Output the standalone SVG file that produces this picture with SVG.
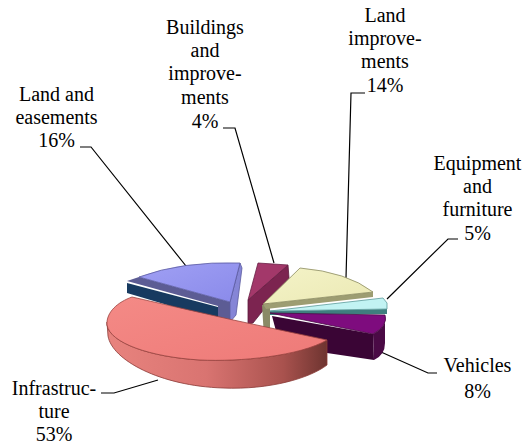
<svg xmlns="http://www.w3.org/2000/svg" width="529" height="445" viewBox="0 0 529 445">
<defs>
<style>
.lbl{font-family:'Liberation Serif','DejaVu Serif',serif;font-size:20px;fill:#000;text-anchor:middle}
.lead{fill:none;stroke:#000;stroke-width:1.2}
.edge{stroke-width:0.8;stroke-linejoin:round}
</style>
<linearGradient id="redWall" gradientUnits="userSpaceOnUse" x1="107" y1="0" x2="327" y2="0">
<stop offset="0" stop-color="#e8837e"/>
<stop offset="0.45" stop-color="#d97471"/>
<stop offset="0.8" stop-color="#a9524e"/>
<stop offset="1" stop-color="#6e3430"/>
</linearGradient>
<linearGradient id="redTop" x1="0" y1="0" x2="1" y2="1">
<stop offset="0" stop-color="#f48a86"/>
<stop offset="1" stop-color="#ee7a78"/>
</linearGradient>
<linearGradient id="blueTop" x1="0" y1="0" x2="1" y2="1">
<stop offset="0" stop-color="#a0a0f4"/>
<stop offset="1" stop-color="#8a8aea"/>
</linearGradient>
<linearGradient id="yelTop" x1="0" y1="0" x2="1" y2="1">
<stop offset="0" stop-color="#f4f3c8"/>
<stop offset="1" stop-color="#ebe9b4"/>
</linearGradient>
</defs>
<rect width="529" height="445" fill="#fff"/>

<g id="connectors">
<polyline class="lead" points="80,147 91,147 186,266"/>
<polyline class="lead" points="223,128 235,128 274,263"/>
<polyline class="lead" points="365,93 351,93 346,278"/>
<polyline class="lead" points="458,239 448,239 387,299"/>
<polyline class="lead" points="381,352 428,373 437,373"/>
<polyline class="lead" points="101,393 114,393 158,380"/>
</g>

<g id="slice-land-easements">
<path d="M127,281 L139,277 L230,302 L230,322 L218,321 L218,306 Z" fill="#5c5c94"/>
<path d="M127,283 L127,293 L218,320 L218,307 Z" fill="#173a60"/>
<path d="M240,263 L242,268 L236,315 L230,322 L230,302 Z" fill="#8585d6" class="edge" stroke="#5a5aa0"/>
<path d="M139,277 Q182,261 240,263 L230,302 Z" fill="url(#blueTop)" class="edge" stroke="#5a5aa0"/>
</g>

<g id="slice-buildings">
<path d="M288,265 L289,278 L253,323 L248,324 L248,300 Z" fill="#7c2450" class="edge" stroke="#5a1a3a"/>
<path d="M258,263 L288,265 L248,300 Z" fill="#a3386a" class="edge" stroke="#6a2045"/>
</g>

<g id="slice-land-improvements">
<path d="M262,305 L270,304 L270,337 L264,337 Z" fill="#8a8a66"/>
<path d="M263,304 L373,292 L373,297 L266,309 Z" fill="#9d9d72"/>
<path d="M263,304 L300,268 Q347,272 373,292 Z" fill="url(#yelTop)" class="edge" stroke="#8a8a60"/>
</g>

<g id="slice-equipment">
<path d="M270,311 L387,309 L387,314 L270,315 Z" fill="#3f7e7e"/>
<path d="M270,311 L383,298 L387,303 L387,309 Z" fill="#c2f3f3" class="edge" stroke="#5c9a9a"/>
</g>

<g id="slice-vehicles">
<path d="M272,316 L373,334 L374,360 L280,346 Z" fill="#3a0535"/>
<path d="M385,315 Q388,326 373,334 L374,360 Q385,355 385,343 Z" fill="#4a0a45"/>
<path d="M270,313 L385,315 Q388,326 373,334 Z" fill="#7e0c7e" class="edge" stroke="#4a0a45"/>
</g>

<g id="slice-infrastructure">
<path d="M107,322 L108,336 C112,360 160,386 223,388 C270,390 310,378 327,365 L327,340 C300,356 240,362 200,360 C150,357 110,343 107,325 Z" fill="url(#redWall)" class="edge" stroke="#8a3a36"/>
<path d="M132,297 Q230,320 327,340 C300,356 240,362 200,360 C150,357 110,343 107,325 C106,312 118,302 132,297 Z" fill="url(#redTop)" class="edge" stroke="#9a4440"/>
</g>

<g id="label-land-easements">
<text class="lbl" x="56.5" y="101" font-family="Liberation Serif">Land and</text>
<text class="lbl" x="56.5" y="124" font-family="Liberation Serif">easements</text>
<text class="lbl" x="56.5" y="147" font-family="Liberation Serif">16%</text>
</g>
<g id="label-buildings">
<text class="lbl" x="205" y="34">Buildings</text>
<text class="lbl" x="205" y="57">and</text>
<text class="lbl" x="205" y="80">improve-</text>
<text class="lbl" x="205" y="104">ments</text>
<text class="lbl" x="205" y="128">4%</text>
</g>
<g id="label-land-improvements">
<text class="lbl" x="385" y="22">Land</text>
<text class="lbl" x="385" y="45">improve-</text>
<text class="lbl" x="385" y="68">ments</text>
<text class="lbl" x="385" y="92">14%</text>
</g>
<g id="label-equipment">
<text class="lbl" x="477.5" y="170">Equipment</text>
<text class="lbl" x="477.5" y="193">and</text>
<text class="lbl" x="477.5" y="216">furniture</text>
<text class="lbl" x="477.5" y="240">5%</text>
</g>
<g id="label-vehicles">
<text class="lbl" x="477.5" y="372">Vehicles</text>
<text class="lbl" x="477.5" y="398">8%</text>
</g>
<g id="label-infrastructure">
<text class="lbl" x="54" y="395">Infrastruc-</text>
<text class="lbl" x="54" y="418">ture</text>
<text class="lbl" x="54" y="441">53%</text>
</g>
</svg>
